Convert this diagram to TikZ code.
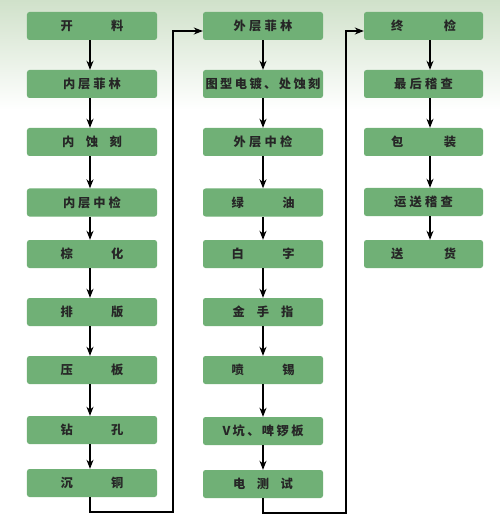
\documentclass[tikz,border=0pt]{standalone}
\usepackage{fontspec}
\newfontfamily\zhfont{Noto Sans CJK SC}[UprightFont={* Black}]
\usetikzlibrary{arrows.meta}
\definecolor{boxgreen}{RGB}{112,176,118}
\definecolor{bgtop}{RGB}{208,225,202}
\tikzset{
  stepbox/.style={fill=boxgreen, rounded corners=2.5bp, minimum height=28bp, inner sep=0pt,
    font=\zhfont\fontsize{12.3}{14}\selectfont, text=black!85},
  colA/.style={stepbox, minimum width=130bp},
  colB/.style={stepbox, minimum width=120bp},
  colC/.style={stepbox, minimum width=119bp},
  arr/.style={-{Stealth[length=9bp,width=7bp]}, line width=1.3bp, draw=black},
}
\newcommand\spreadlbl[2]{\hbox to #1{#2}}
\begin{document}
\begin{tikzpicture}[x=1bp,y=-1bp]
\useasboundingbox (0,0) rectangle (500,527);
\fill[white] (0,0) rectangle (500,527);
\shade[top color=bgtop, bottom color=white] (0,0) rectangle (500,110);
% column 1
\node[colA] (a1) at (92,26) {\spreadlbl{63bp}{开\hfill 料}};
\node[colA] (a2) at (92,84) {\spreadlbl{58bp}{内\hfill 层\hfill 菲\hfill 林}};
\node[colA] (a3) at (92,142) {\spreadlbl{60bp}{内\hfill 蚀\hfill 刻}};
\node[colA] (a4) at (92,202.5) {\spreadlbl{58bp}{内\hfill 层\hfill 中\hfill 检}};
\node[colA] (a5) at (92,254) {\spreadlbl{63bp}{棕\hfill 化}};
\node[colA] (a6) at (92,312) {\spreadlbl{63bp}{排\hfill 版}};
\node[colA] (a7) at (92,370) {\spreadlbl{63bp}{压\hfill 板}};
\node[colA] (a8) at (92,430) {\spreadlbl{63bp}{钻\hfill 孔}};
\node[colA] (a9) at (92,483) {\spreadlbl{63bp}{沉\hfill 铜}};
% column 2
\node[colB] (b1) at (263,26) {\spreadlbl{59bp}{外\hfill 层\hfill 菲\hfill 林}};
\node[colB] (b2) at (263,84) {\spreadlbl{115bp}{图\hfill 型\hfill 电\hfill 镀\hfill 、\hfill 处\hfill 蚀\hfill 刻}};
\node[colB] (b3) at (263,142) {\spreadlbl{59bp}{外\hfill 层\hfill 中\hfill 检}};
\node[colB] (b4) at (263,202.5) {\spreadlbl{63bp}{绿\hfill 油}};
\node[colB] (b5) at (263,254) {\spreadlbl{63bp}{白\hfill 字}};
\node[colB] (b6) at (263,312) {\spreadlbl{61bp}{金\hfill 手\hfill 指}};
\node[colB] (b7) at (263,370) {\spreadlbl{63bp}{喷\hfill 锡}};
\node[colB] (b8) at (263,431) {\spreadlbl{81bp}{V\hfill 坑\hfill 、\hfill 啤\hfill 锣\hfill 板}};
\node[colB] (b9) at (263,484) {\spreadlbl{60bp}{电\hfill 测\hfill 试}};
% column 3
\node[colC] (c1) at (423.5,26) {\spreadlbl{65bp}{终\hfill 检}};
\node[colC] (c2) at (423.5,84) {\spreadlbl{59bp}{最\hfill 后\hfill 稽\hfill 查}};
\node[colC] (c3) at (423.5,142) {\spreadlbl{65bp}{包\hfill 装}};
\node[colC] (c4) at (423.5,202) {\spreadlbl{59bp}{运\hfill 送\hfill 稽\hfill 查}};
\node[colC] (c5) at (423.5,254) {\spreadlbl{65bp}{送\hfill 货}};
% arrows
\foreach \i/\j in {1/2,2/3,3/4,4/5,5/6,6/7,7/8,8/9}
  \draw[arr] ([xshift=-2bp]a\i.south) -- ([xshift=-2bp]a\j.north);
\foreach \i/\j in {1/2,2/3,3/4,4/5,5/6,6/7,7/8,8/9}
  \draw[arr] (b\i.south) -- (b\j.north);
\foreach \i/\j in {1/2,2/3,3/4,4/5}
  \draw[arr] ([xshift=6.5bp]c\i.south) -- ([xshift=6.5bp]c\j.north);
% links between columns
\draw[arr] ([xshift=-2bp]a9.south) |- (173,512) |- ([yshift=-5bp]b1.west);
\draw[arr] (b9.south) |- (346,513) |- ([yshift=-5bp]c1.west);
\end{tikzpicture}
\end{document}
